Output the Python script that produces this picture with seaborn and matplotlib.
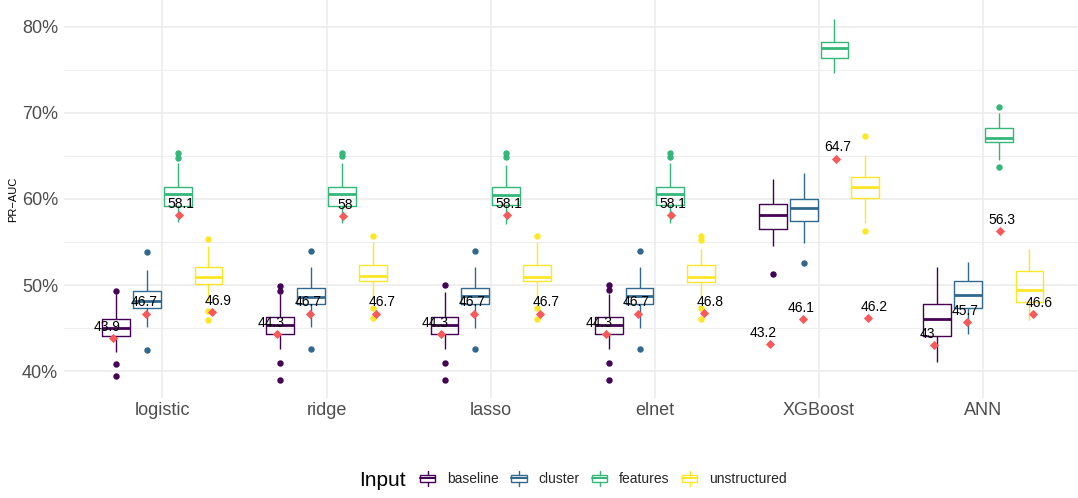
import numpy as np
import pandas as pd
import seaborn as sns
import matplotlib
matplotlib.use("Agg")
import matplotlib.pyplot as plt
from matplotlib.patches import Rectangle, Patch
from matplotlib.lines import Line2D
from matplotlib.legend_handler import HandlerBase
from matplotlib.ticker import FuncFormatter, MultipleLocator

# ---------------- data (PR-AUC, %) ----------------
models = ["logistic", "ridge", "lasso", "elnet", "XGBoost", "ANN"]
inputs = ["baseline", "cluster", "features", "unstructured"]
colors = ["#440154", "#31688E", "#35B779", "#FDE725"]

whislo = {
    "baseline":     [42.2, 42.6, 42.6, 42.6, 54.5, 41.05],
    "cluster":      [45.1, 45.1, 45.0, 45.0, 54.95, 44.35],
    "features":     [57.3, 57.2, 57.1, 57.2, 74.6, 64.55],
    "unstructured": [48.2, 48.3, 48.3, 48.5, 57.2, 46.0],
}
q1 = {
    "baseline":     [44.05, 44.35, 44.3, 44.3, 56.55, 44.05],
    "cluster":      [47.3, 47.8, 47.8, 47.8, 57.5, 47.35],
    "features":     [59.2, 59.2, 59.3, 59.3, 76.4, 66.6],
    "unstructured": [50.1, 50.5, 50.5, 50.4, 60.1, 48.0],
}
med = {
    "baseline":     [45.0, 45.4, 45.35, 45.35, 58.2, 46.05],
    "cluster":      [48.2, 48.6, 48.7, 48.7, 58.9, 48.9],
    "features":     [60.6, 60.6, 60.5, 60.6, 77.55, 67.1],
    "unstructured": [51.0, 51.05, 51.0, 51.0, 61.4, 49.4],
}
q3 = {
    "baseline":     [46.1, 46.3, 46.3, 46.25, 59.45, 47.8],
    "cluster":      [49.3, 49.7, 49.7, 49.7, 60.05, 50.5],
    "features":     [61.4, 61.4, 61.4, 61.4, 78.25, 68.2],
    "unstructured": [52.1, 52.35, 52.35, 52.3, 62.55, 51.7],
}
whishi = {
    "baseline":     [49.0, 49.0, 49.2, 49.0, 62.3, 52.1],
    "cluster":      [51.8, 52.1, 52.1, 52.1, 63.05, 52.7],
    "features":     [64.2, 64.2, 63.9, 64.2, 80.9, 70.0],
    "unstructured": [54.6, 55.0, 55.0, 54.2, 65.1, 54.2],
}
fliers = {
    "baseline":     [[40.9, 39.5, 49.3], [41.0, 39.0, 49.3, 49.9], [41.0, 39.0, 50.0],
                     [41.0, 39.0, 49.4, 50.0], [51.3], []],
    "cluster":      [[53.8, 42.5], [54.0, 42.6], [54.0, 42.6], [54.0, 42.6], [52.6], []],
    "features":     [[64.8, 65.3], [65.0, 65.3], [64.9, 65.3], [64.9, 65.3], [], [70.7, 63.75]],
    "unstructured": [[55.4, 47.0, 46.0], [55.65, 47.3, 46.2], [55.65, 47.3, 46.1],
                     [55.65, 55.2, 47.3, 46.1], [67.35, 56.3], []],
}
means = {
    "baseline":     [43.9, 44.3, 44.3, 44.3, 43.2, 43.0],
    "cluster":      [46.7, 46.7, 46.7, 46.7, 46.1, 45.7],
    "features":     [58.1, 58.0, 58.1, 58.1, 64.7, 56.3],
    "unstructured": [46.9, 46.7, 46.7, 46.8, 46.2, 46.6],
}

# ---------------- build long table reproducing the box statistics ----------------
REP = 20
rows = []
for inp in inputs:
    for i, m in enumerate(models):
        vals = ([whislo[inp][i]] + [q1[inp][i]] * REP + [med[inp][i]] * REP +
                [q3[inp][i]] * REP + [whishi[inp][i]] + fliers[inp][i])
        rows += [(m, inp, v) for v in vals]
df = pd.DataFrame(rows, columns=["model", "input", "value"])

mean_rows = []
for j, inp in enumerate(inputs):
    for i, m in enumerate(models):
        mean_rows.append((i + (j - 1.5) * 0.2, i + (j - 1.5) * 0.225, means[inp][i], inp))
mdf = pd.DataFrame(mean_rows, columns=["xpt", "xtxt", "mean", "input"])

# ---------------- plot ----------------
sns.set_theme(style="whitegrid")
plt.rcParams["font.family"] = ["Liberation Sans", "DejaVu Sans"]

W, H = 1078, 498
fig = plt.figure(figsize=(W / 100, H / 100), dpi=100)
ax = fig.add_axes([63.8 / W, 100 / H, 1018 / W, 398 / H])

sns.boxplot(data=df, x="model", y="value", hue="input", order=models, hue_order=inputs,
            palette=colors, fill=False, width=0.75, gap=0.1, linewidth=1,
            showcaps=False, whis=1.5,
            flierprops=dict(marker="o", markersize=3.6),
            medianprops=dict(linewidth=2), legend=False, ax=ax)
for ln in ax.lines:
    if ln.get_marker() == "o":
        ln.set_markerfacecolor(ln.get_markeredgecolor())

sns.scatterplot(data=mdf, x="xpt", y="mean", marker="D", color="#F8595B", s=22,
                linewidth=0, legend=False, ax=ax, zorder=4)
for _, r in mdf.iterrows():
    ax.annotate(f"{r['mean']:g}", (r["xtxt"], r["mean"]), xytext=(0, 8),
                textcoords="offset points", ha="center", va="center",
                fontsize=10, color="black", zorder=5)

ax.set_xlim(-0.6, 5.6)
ax.set_ylim(36.9, 83.1)
ax.set_xticks(range(len(models)))
ax.set_xticklabels(models)
ax.yaxis.set_major_locator(MultipleLocator(10))
ax.yaxis.set_minor_locator(MultipleLocator(5))
ax.yaxis.set_major_formatter(FuncFormatter(lambda v, p: f"{v:.0f}%"))
ax.grid(True, which="major", color="#EBEBEB", linewidth=1.1)
ax.yaxis.grid(True, which="minor", color="#EBEBEB", linewidth=0.6)
ax.xaxis.grid(True, which="major", color="#EBEBEB", linewidth=1.1)
ax.set_axisbelow(True)
for s in ax.spines.values():
    s.set_visible(False)
ax.set_facecolor("white")
ax.tick_params(axis="both", which="both", length=0, labelsize=13, labelcolor="#4D4D4D")
ax.tick_params(axis="x", pad=3)
ax.tick_params(axis="y", pad=4)
ax.set_xlabel("")
ax.set_ylabel("PR\u2212AUC", fontsize=8, color="black", labelpad=3)


class BoxHandler(HandlerBase):
    def create_artists(self, legend, orig_handle, xdescent, ydescent, width, height,
                       fontsize, trans):
        c = orig_handle.get_edgecolor()
        x0, y0 = -xdescent, -ydescent
        cx = x0 + width / 2
        top, bot = y0 + height * 1.15, y0 - height * 0.15
        b_lo, b_hi = y0 + height * 0.2, y0 + height * 0.8
        rect = Rectangle((x0, b_lo), width, b_hi - b_lo, fill=False, edgecolor=c,
                         linewidth=1, transform=trans)
        mline = Line2D([x0, x0 + width], [(b_lo + b_hi) / 2] * 2, color=c, lw=1.5,
                       transform=trans)
        w1 = Line2D([cx, cx], [b_hi, top], color=c, lw=1, transform=trans)
        w2 = Line2D([cx, cx], [bot, b_lo], color=c, lw=1, transform=trans)
        return [rect, mline, w1, w2]


handles = [Patch(edgecolor=c, facecolor="none", label=l) for c, l in zip(colors, inputs)]
leg = fig.legend(handles=handles, labels=inputs, handler_map={Patch: BoxHandler()},
                 loc="center left", bbox_to_anchor=(420 / W, 1 - 479 / H), ncol=4,
                 frameon=False, fontsize=10, handlelength=1.1, handleheight=0.9,
                 handletextpad=0.85, columnspacing=0.9, borderpad=0, borderaxespad=0)
fig.text(359 / W, 1 - 480 / H, "Input", fontsize=15, ha="left", va="center", color="black")

fig.savefig("out.png", dpi=100, facecolor="white")
